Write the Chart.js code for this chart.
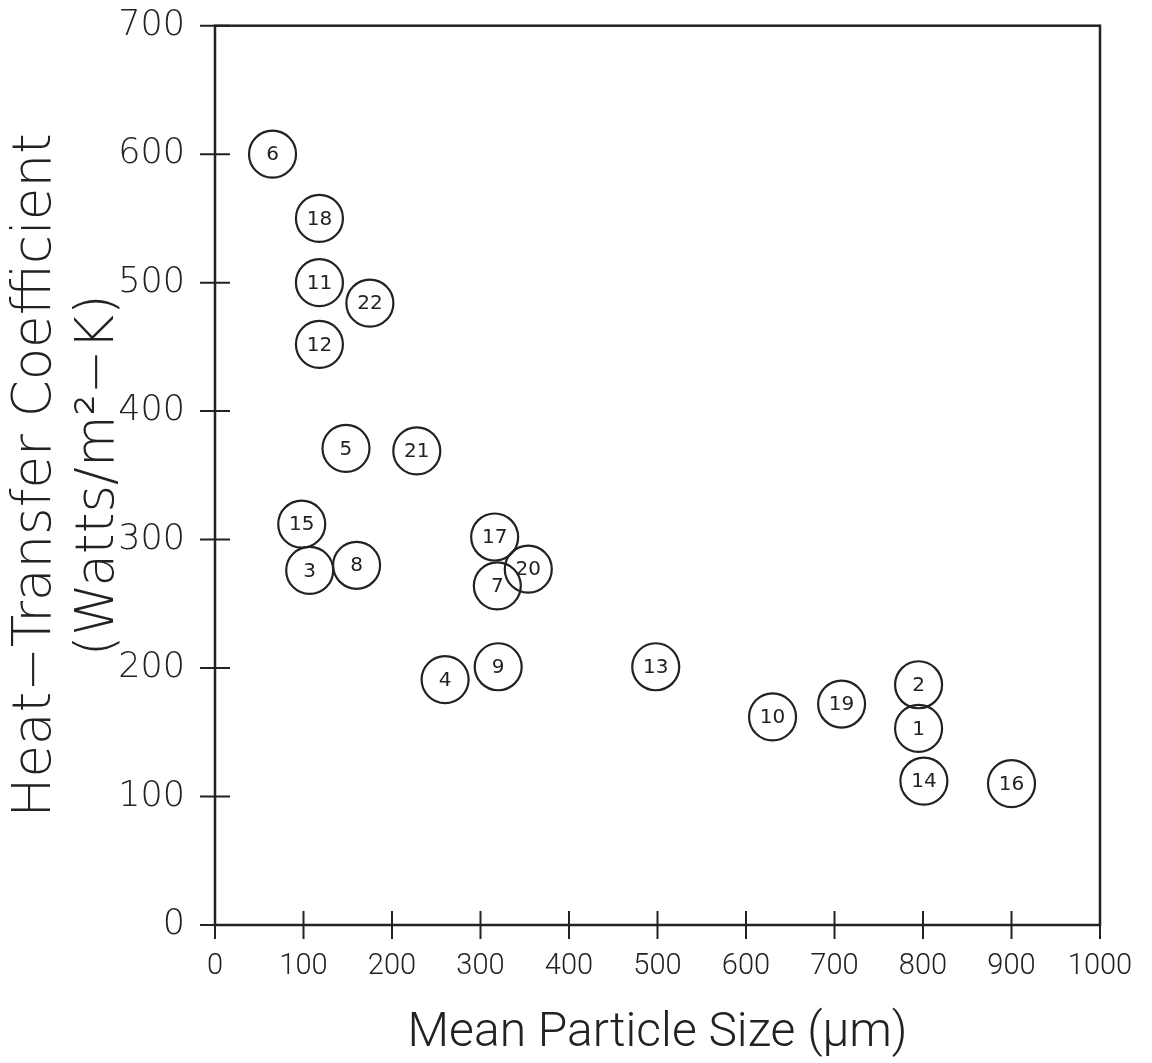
<!DOCTYPE html>
<html>
<head>
<meta charset="utf-8">
<script src="https://cdn.jsdelivr.net/npm/chart.js@4"></script>
<style>
  html, body { margin: 0; padding: 0; background: #fff; }
</style>
</head>
<body>
<canvas id="chart" width="1152" height="1063"></canvas>
<script>
// run numbers drawn inside the circles
const runIds = [1, 2, 3, 4, 5, 6, 7, 8, 9, 10, 11, 12, 13, 14, 15, 16, 17, 18, 19, 20, 21, 22]
// mean particle size (um)
const particleSize = [795, 795, 107, 260, 148, 65, 319, 160, 320, 630, 118, 118, 498, 801, 98, 900, 316, 118, 708, 354, 228, 175]
// heat-transfer coefficient (W/m2-K)
const heatCoeff = [153, 187, 276, 191, 371, 600, 264, 280, 201, 162, 500, 452, 201, 112, 312, 110, 302, 550, 172, 277, 369, 484]

const xTicks = [0, 100, 200, 300, 400, 500, 600, 700, 800, 900, 1000]
const yTicks = [0, 100, 200, 300, 400, 500, 600, 700]

const thinFont = "Roboto, 'Open Sans', sans-serif"
const wideFont = "'DejaVu Sans', sans-serif"

/**
 * Frame and "+" style ticks crossing the axes
 */
const frameTicks = {
    id: "frameTicks",
    afterDraw(chart) {
        const { ctx, chartArea: a, scales } = chart
        ctx.save()
        ctx.strokeStyle = "#222"
        ctx.lineWidth = 2.5
        ctx.strokeRect(a.left, a.top, a.right - a.left, a.bottom - a.top)
        ctx.lineWidth = 2
        ctx.beginPath()
        scales.x.ticks.forEach(({ value }) => {
            const px = scales.x.getPixelForValue(value)
            ctx.moveTo(px, a.bottom - 14)
            ctx.lineTo(px, a.bottom + 14)
        })
        scales.y.ticks.forEach(({ value }) => {
            const py = scales.y.getPixelForValue(value)
            ctx.moveTo(a.left - 15, py)
            ctx.lineTo(a.left + 15, py)
        })
        ctx.stroke()
        ctx.restore()
    }
}

/**
 * Run numbers inside each circle
 */
const circleLabels = {
    id: "circleLabels",
    afterDatasetsDraw(chart) {
        const { ctx } = chart
        const meta = chart.getDatasetMeta(0)
        ctx.save()
        ctx.fillStyle = "#222"
        ctx.font = "20px " + wideFont
        ctx.textAlign = "center"
        ctx.textBaseline = "middle"
        meta.data.forEach((el, i) => {
            ctx.fillText(String(runIds[i]), el.x, el.y + 1)
        })
        ctx.restore()
    }
}

const points = particleSize.map((x, i) => ({ x, y: heatCoeff[i] }))

new Chart(document.getElementById("chart"), {
    type: "scatter",
    data: {
        datasets: [{
            data: points,
            pointRadius: 23.5,
            pointHoverRadius: 23.5,
            pointBorderWidth: 2.2,
            pointBorderColor: "#222",
            pointBackgroundColor: "rgba(0,0,0,0)",
            clip: false
        }]
    },
    options: {
        responsive: false,
        animation: false,
        events: [],
        layout: { padding: { top: 25, right: 52, left: 0, bottom: 0 } },
        plugins: {
            legend: { display: false },
            tooltip: { enabled: false }
        },
        scales: {
            x: {
                type: "linear",
                min: 0,
                max: 1000,
                afterBuildTicks: scale => { scale.ticks = xTicks.map(value => ({ value })) },
                afterFit: scale => {
                    scale.height = 138
                    scale.paddingLeft = 0
                    scale.paddingRight = 0
                },
                grid: { display: false, drawTicks: false },
                border: { display: false },
                ticks: {
                    padding: 24,
                    color: "#222",
                    callback: value => String(value),
                    font: { family: thinFont, size: 29, weight: "300" }
                },
                title: {
                    display: true,
                    text: "Mean Particle Size (\u03bcm)",
                    color: "#222",
                    padding: { top: 16, bottom: 0 },
                    font: { family: thinFont, size: 48, weight: "300" }
                }
            },
            y: {
                type: "linear",
                min: 0,
                max: 700,
                afterBuildTicks: scale => { scale.ticks = yTicks.map(value => ({ value })) },
                afterFit: scale => {
                    scale.width = 215
                    scale.paddingTop = 0
                    scale.paddingBottom = 0
                },
                grid: { display: false, drawTicks: false },
                border: { display: false },
                ticks: {
                    padding: 30,
                    color: "#222",
                    font: { family: wideFont, size: 35, weight: "200" }
                },
                title: {
                    display: true,
                    text: ["Heat\u2212Transfer Coefficient", "(Watts/m\u00b2\u2212K)"],
                    color: "#222",
                    padding: { top: 4, bottom: 0 },
                    font: { family: wideFont, size: 53, weight: "200", lineHeight: 1.2 }
                }
            }
        }
    },
    plugins: [frameTicks, circleLabels]
})
</script>
</body>
</html>
